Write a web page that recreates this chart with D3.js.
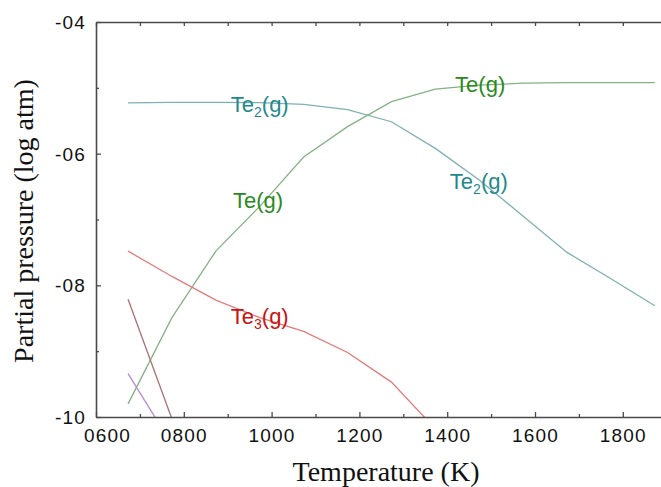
<!DOCTYPE html>
<html>
<head>
<meta charset="utf-8">
<script src="https://cdn.jsdelivr.net/npm/d3@7"></script>
<style>
  body { margin: 0; background: #fff; }
  svg { display: block; }
</style>
</head>
<body>
<svg id="chart"></svg>
<script>
// temperatures (K) of the computed points
var temps = [673, 773, 873, 973, 1073, 1173, 1273, 1373, 1473, 1573, 1673, 1773, 1873];

// log partial pressures (atm)
var te2 = [-5.23, -5.22, -5.22, -5.225, -5.25, -5.33, -5.515, -5.92, -6.40, -6.95, -7.50, -7.90, -8.31];
var te1 = [-9.80, -8.49, -7.48, -6.80, -6.05, -5.59, -5.21, -5.02, -4.96, -4.93, -4.92, -4.92, -4.92];
var te3 = [-7.48, -7.865, -8.225, -8.49, -8.70, -9.02, -9.47, -10.18];
var te5 = [-8.21, -10.03];   // brown, short
var te7 = [-9.34, -10.42];   // purple, short

var xMajor = [600, 800, 1000, 1200, 1400, 1600, 1800];
var xMinor = [700, 900, 1100, 1300, 1500, 1700];
var yMajor = [-4, -6, -8, -10];
var yMinor = [-5, -7, -9];

// label anchors in data units
var labels = [
  {name: "Te", sub: "2", T: 907, P: -5.36, color: "#1f8a8c"},
  {name: "Te", sub: "", T: 912, P: -6.83, color: "#2a8a1e"},
  {name: "Te", sub: "", T: 1418, P: -5.07, color: "#2a8a1e"},
  {name: "Te", sub: "2", T: 1406, P: -6.53, color: "#1f8a8c"},
  {name: "Te", sub: "3", T: 907, P: -8.58, color: "#c81414"}
];

var series = [
  {vals: te2, color: "#7fb0b3"},
  {vals: te1, color: "#84b285"},
  {vals: te3, color: "#e57a7a"},
  {vals: te5, color: "#a87272"},
  {vals: te7, color: "#b98ad6"}
];

var W = 661, H = 487;
var plot = {left: 96, right: 661, top: 22, bottom: 417};

var svg = d3.select("#chart").attr("width", W).attr("height", H);

var x = d3.scaleLinear().domain([600, 1887]).range([plot.left, plot.right]);
var y = d3.scaleLinear().domain([-10, -4]).range([plot.bottom, plot.top]);

svg.append("clipPath").attr("id", "clip")
  .append("rect")
  .attr("x", plot.left).attr("y", plot.top)
  .attr("width", plot.right - plot.left).attr("height", plot.bottom - plot.top);

var line = d3.line()
  .x(function(d, i) { return x(temps[i]); })
  .y(function(d) { return y(d); });

svg.append("g").attr("clip-path", "url(#clip)")
  .selectAll("path")
  .data(series)
  .enter()
  .append("path")
  .attr("d", function(s) { return line(s.vals); })
  .attr("fill", "none")
  .attr("stroke", function(s) { return s.color; })
  .attr("stroke-width", 1.3);

// axes
var axisColor = "#4a4a4a";
var fmtX = function(d) { return d3.format("04d")(d); };
var fmtY = function(d) { return "-" + d3.format("02d")(Math.abs(d)); };

var gx = svg.append("g").attr("transform", "translate(0," + plot.bottom + ")")
  .call(d3.axisBottom(x).tickValues(xMajor).tickSize(-5).tickSizeOuter(0).tickPadding(12).tickFormat(fmtX));
svg.append("g").attr("transform", "translate(0," + plot.bottom + ")")
  .call(d3.axisBottom(x).tickValues(xMinor).tickSize(-3).tickSizeOuter(0).tickFormat(""))
  .select(".domain").remove();

svg.append("g").attr("transform", "translate(0," + plot.top + ")")
  .call(d3.axisTop(x).tickValues(xMajor.concat(xMinor)).tickSize(-4).tickSizeOuter(0).tickFormat(""));

var gy = svg.append("g").attr("transform", "translate(" + plot.left + ",0)")
  .call(d3.axisLeft(y).tickValues(yMajor).tickSize(-5).tickSizeOuter(0).tickPadding(10).tickFormat(fmtY));
svg.append("g").attr("transform", "translate(" + plot.left + ",0)")
  .call(d3.axisLeft(y).tickValues(yMinor).tickSize(-3).tickSizeOuter(0).tickFormat(""))
  .select(".domain").remove();

svg.selectAll(".domain").attr("stroke", axisColor).attr("stroke-width", 1.6);
svg.selectAll(".tick line").attr("stroke", axisColor).attr("stroke-width", 1.3);
svg.selectAll(".tick text")
  .attr("fill", "#111")
  .attr("font-family", "Liberation Sans, Arial, sans-serif")
  .attr("font-size", "19px")
  .attr("letter-spacing", "1.2px");

gx.selectAll(".tick text").filter(function(d) { return d === 600; }).attr("dx", 11);
gy.selectAll(".tick text").attr("dy", "0.35em");

// axis titles
svg.append("text")
  .attr("x", 386).attr("y", 481)
  .attr("text-anchor", "middle")
  .attr("font-family", "Liberation Serif, Times New Roman, serif")
  .attr("font-size", "28px")
  .attr("fill", "#111")
  .text("Temperature (K)");

svg.append("text")
  .attr("transform", "translate(33,221) rotate(-90)")
  .attr("text-anchor", "middle")
  .attr("font-family", "Liberation Serif, Times New Roman, serif")
  .attr("font-size", "28px")
  .attr("fill", "#111")
  .text("Partial pressure (log atm)");

// curve labels
var lab = svg.append("g")
  .selectAll("text")
  .data(labels)
  .enter()
  .append("text")
  .attr("x", function(d) { return x(d.T); })
  .attr("y", function(d) { return y(d.P); })
  .attr("font-family", "Liberation Sans, Arial, sans-serif")
  .attr("font-size", "22px")
  .attr("fill", function(d) { return d.color; });

lab.append("tspan").text(function(d) { return d.name; });
lab.append("tspan")
  .attr("font-size", "14px")
  .attr("dy", function(d) { return d.sub ? 5 : 0; })
  .text(function(d) { return d.sub; });
lab.append("tspan")
  .attr("dy", function(d) { return d.sub ? -5 : 0; })
  .text("(g)");
</script>
</body>
</html>
